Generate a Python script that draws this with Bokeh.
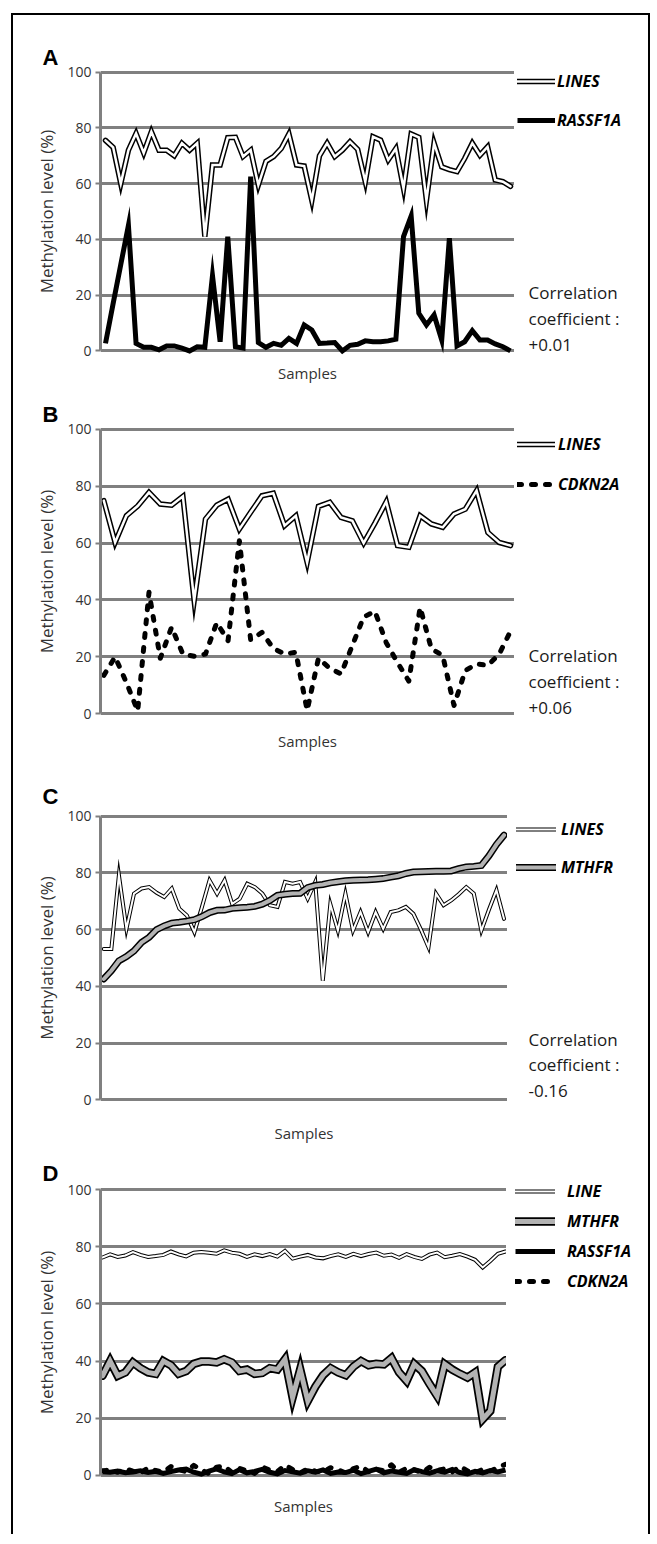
from bokeh.plotting import figure
from bokeh.layouts import column, row
from bokeh.models import FixedTicker, Label, Legend, LegendItem, Range1d
from bokeh.embed import file_html
from bokeh.resources import INLINE

# ---------------- data ----------------
y_ticks = [0, 20, 40, 60, 80, 100]
y_label = "Methylation level (%)"
x_label = "Samples"

# Panel A
samples_a = list(range(1, 55))
lines_a = [75.5, 73, 60, 72, 78, 71, 78.6, 72, 72, 70, 74.5, 72, 74.5, 41, 66.7, 66.7, 76.5, 76.6,
           69.7, 72, 59.5, 68, 69.7, 72.6, 77.8, 66.7, 66.3, 54, 70, 74.5, 69.7, 72, 75, 72.3, 60.7,
           76.8, 75.6, 68.5, 72.6, 58.3, 77.8, 76.6, 54, 74.5, 66, 65, 64.3, 69, 74.5, 70.2, 73.2,
           61.3, 60.7, 59]
rassf1a_a = [2.7, 17, 31, 45, 2.7, 1.3, 1.3, 0.4, 1.8, 1.8, 1, 0, 1.5, 1.3, 27, 3.3, 41, 1.5, 1,
             62.5, 3, 1.3, 2.7, 2, 4.5, 2.7, 9.3, 7.5, 2.7, 2.8, 3, 0, 2, 2.4, 3.6, 3.3, 3.3, 3.6,
             4.2, 41, 48.4, 13.5, 9.3, 12.9, 3.9, 40.4, 1.8, 3.3, 7.3, 3.9, 3.9, 2.5, 1.5, 0]
corr_a = "+0.01"

# Panel B
samples_b = list(range(1, 38))
lines_b = [74.9, 60.2, 69.6, 73, 77.8, 73.7, 73.3, 76.4, 39.8, 68.4, 73.3, 75.4, 64.9, 70.8, 76.6,
           77.5, 66.1, 69.6, 53.2, 72.9, 74.3, 69, 67.8, 60, 67, 74.5, 59.1, 58.5, 69.6, 66.7, 65.5,
           70.2, 71.9, 78.4, 63.7, 60.2, 59.1]
cdkn2a_b = [13.5, 20, 11, 1, 42.7, 19.5, 30.4, 21, 20.2, 21, 32, 25.7, 60.8, 26, 28.6, 23, 21, 21.6,
            1.2, 19.5, 16, 14, 24, 34, 36, 25, 18, 11.5, 37.4, 22.8, 20.5, 2.9, 15.2, 17.5, 17, 21, 29]
corr_b = "+0.06"

# Panel C
samples_c = list(range(1, 55))
lines_c = [53.2, 53.2, 79.2, 60.3, 72.7, 74.5, 75, 73, 71.5, 74.5, 67.4, 65, 59.1, 68, 77.4, 72.7,
           77.4, 69.1, 70.9, 76.2, 75, 72.7, 68.6, 68, 76.8, 76.2, 76.8, 70.9, 76.8, 42, 69, 59.7,
           72.7, 59.7, 66.2, 59.1, 66.2, 60.3, 66.2, 66.8, 68, 65.6, 60, 53.8, 72.7, 68.6, 70.3,
           72.5, 75, 72.7, 59.7, 67, 73.9, 63.8]
mthfr_c = [42.6, 45.5, 49, 50.5, 52.5, 55.5, 57.3, 60, 61.3, 62.3, 62.6, 63, 63.5, 64.6, 66, 66.8,
           66.9, 67.5, 67.7, 67.9, 68.2, 69, 70.3, 72.1, 72.5, 72.7, 72.8, 74.8, 75.6, 75.9, 76.5,
           76.9, 77.2, 77.4, 77.5, 77.6, 77.8, 78, 78.5, 79, 79.8, 80.3, 80.4, 80.5, 80.6, 80.6,
           80.7, 81.5, 82.1, 82.3, 82.6, 86, 90, 93.3]
corr_c = "-0.16"

# Panel D
samples_d = list(range(1, 55))
line_d = [76.3, 77.4, 76.5, 77.0, 78.2, 77.2, 76.5, 76.8, 77.2, 78.4, 77.4, 76.7, 78.0, 78.2, 78.0,
          77.6, 78.8, 78.0, 77.6, 76.5, 77.4, 76.8, 77.5, 76.6, 78.6, 75.9, 76.6, 77.2, 76.3, 76.0,
          76.8, 77.4, 76.5, 77.6, 76.8, 77.5, 78.0, 76.9, 77.3, 76.2, 77.5, 76.5, 75.8, 77.3, 78.0,
          76.4, 76.9, 77.5, 76.6, 75.5, 72.8, 75.1, 77.6, 78.4]
mthfr_d = [34.8, 40, 34.8, 36, 39.5, 37.5, 36, 35.5, 40, 38.5, 35.5, 36.5, 39, 39.8, 39.8, 39.5,
           40.6, 39.5, 36.5, 37, 35.5, 35.8, 37.5, 37, 40.6, 27.2, 37.1, 26, 31, 35, 37.5, 36, 35,
           38, 40, 38.5, 39, 38.8, 41, 36, 33, 38.9, 36.5, 32, 27.8, 38.9, 37, 35.5, 34.2, 36, 19.6,
           22.5, 38, 40.3]
rassf1a_d = [1.2, 1.0, 1.4, 0.8, 1.1, 1.5, 0.9, 1.3, 0.6, 1.2, 1.8, 2.1, 1.0, 0.3, 1.4, 2.2, 1.1,
             0.5, 1.9, 0.8, 1.3, 2.0, 1.0, 0.4, 1.6, 1.2, 0.7, 1.5, 1.0, 1.8, 0.6, 1.1, 0.9, 1.7,
             0.5, 1.3, 2.1, 0.8, 1.4, 1.0, 0.6, 1.9, 1.2, 0.7, 1.5, 1.0, 2.0, 0.9, 0.4, 1.3, 0.8,
             1.6, 1.1, 1.8]
cdkn2a_d = [1.5, 1.8, 1.0, 2.2, 1.4, 0.8, 2.5, 1.6, 1.1, 3.0, 2.0, 1.2, 3.4, 1.8, 0.5, 2.8, 3.2,
            1.0, 2.4, 1.5, 0.6, 2.9, 1.7, 1.2, 3.5, 2.0, 0.8, 2.2, 1.4, 1.0, 2.6, 1.8, 0.7, 2.3,
            3.1, 1.2, 2.0, 1.5, 3.6, 1.0, 2.4, 1.8, 0.9, 2.7, 1.6, 2.2, 1.1, 3.0, 1.5, 0.8, 2.0,
            1.4, 2.6, 3.8]

# ---------------- styling / layout ----------------
GRID = "#808080"
TXT = "#333333"
FONT = "Open Sans"
CONTENT_LEFT = 13
CONTENT_RIGHT = 648
FRAME_LEFT = 100
NAN = float("nan")

STYLE = {
    "LINES": dict(kind="double", outer=5.5, inner=2.5, color="white"),
    "LINES_thin": dict(kind="double", outer=4, inner=2, color="white"),
    "RASSF1A": dict(kind="solid", width=5),
    "CDKN2A": dict(kind="dash", width=5),
    "MTHFR_c": dict(kind="double", outer=7, inner=4, color="#b3b3b3"),
    "MTHFR_d": dict(kind="double", outer=8.5, inner=5, color="#b3b3b3"),
}


def draw(p, x, y, st):
    if st["kind"] == "double":
        r1 = p.line(x, y, line_color="black", line_width=st["outer"], line_join="miter",
                    line_cap="round")
        r2 = p.line(x, y, line_color=st["color"], line_width=st["inner"], line_join="miter",
                    line_cap="round")
        return [r1, r2]
    if st["kind"] == "solid":
        return [p.line(x, y, line_color="black", line_width=st["width"], line_join="miter")]
    return [p.line(x, y, line_color="black", line_width=st["width"], line_dash="4 10",
                   line_cap="round", line_join="round")]


def make_panel(n, first_px, last_px, frame_right, y100, y0, fig_top, fig_bottom,
               samples_gap, letter, letter_standoff, pad=2):
    s = (last_px - first_px) / (n - 1)
    x_start = 1 - (first_px - FRAME_LEFT) / s
    x_end = n + (frame_right - last_px) / s
    sy = (y0 - y100) / 100.0
    f_top = y100 - pad * sy
    f_bot = y0 + pad * sy
    fh = int(round(f_bot - f_top))
    bt = int(round(f_top - fig_top))
    bb = int(round(fig_bottom - f_bot))
    p = figure(x_range=(x_start, x_end), y_range=(-pad, 100 + pad),
               frame_width=int(frame_right - FRAME_LEFT), frame_height=fh,
               min_border_left=FRAME_LEFT - CONTENT_LEFT, min_border_right=0,
               min_border_top=bt, min_border_bottom=bb,
               title=letter, output_backend="svg", toolbar_location=None)
    p.outline_line_color = None
    p.title.align = "left"
    p.title.offset = 42 - FRAME_LEFT
    p.title.standoff = letter_standoff
    p.title.text_font = "Liberation Sans"
    p.title.text_font_size = "22px"
    p.title.text_font_style = "bold"
    p.title.text_color = "black"

    p.xgrid.visible = False
    p.ygrid.ticker = FixedTicker(ticks=y_ticks)
    p.ygrid.grid_line_color = GRID
    p.ygrid.grid_line_width = 3

    yax = p.yaxis[0]
    yax.ticker = FixedTicker(ticks=y_ticks)
    yax.bounds = (0, 100)
    yax.minor_tick_line_color = None
    yax.major_tick_in = 0
    yax.major_tick_out = 5
    yax.major_tick_line_color = GRID
    yax.major_tick_line_width = 2
    yax.axis_line_color = GRID
    yax.axis_line_width = 3
    yax.major_label_text_font = FONT
    yax.major_label_text_font_size = "14px"
    yax.major_label_text_color = TXT
    yax.major_label_standoff = 4
    yax.axis_label = y_label
    yax.axis_label_text_font = FONT
    yax.axis_label_text_font_size = "17px"
    yax.axis_label_text_font_style = "normal"
    yax.axis_label_text_color = TXT
    yax.axis_label_standoff = 6

    xax = p.xaxis[0]
    xax.ticker = FixedTicker(ticks=[])
    xax.axis_line_color = None
    xax.major_tick_line_color = None
    xax.minor_tick_line_color = None
    xax.major_tick_out = 0
    xax.minor_tick_out = 0
    xax.axis_label = x_label
    xax.axis_label_text_font = FONT
    xax.axis_label_text_font_size = "15px"
    xax.axis_label_text_font_style = "normal"
    xax.axis_label_text_color = TXT
    xax.axis_label_standoff = samples_gap

    # side area (legend + correlation text); its frame matches the main frame vertically,
    # and its coordinates are page pixels
    side = figure(x_range=Range1d(frame_right, CONTENT_RIGHT), y_range=Range1d(f_bot, f_top),
                  frame_width=int(CONTENT_RIGHT - frame_right), frame_height=fh,
                  min_border_left=0, min_border_right=0, min_border_top=bt, min_border_bottom=bb,
                  x_axis_type=None, y_axis_type=None,
                  output_backend="svg", toolbar_location=None)
    side.outline_line_color = None
    return p, side, f_bot


def add_legend(side, items, f_bot, glyph_left, frame_right, row1, pitch, glyph_w, standoff):
    row_h = 20
    n = len(items)
    height = n * row_h + (n - 1) * (pitch - row_h)
    top = row1 - row_h / 2
    legend_items = []
    for lab, st in items:
        rs = draw(side, [NAN, NAN], [NAN, NAN], st)
        legend_items.append(LegendItem(label=lab, renderers=rs))
    leg = Legend(items=legend_items,
                 location=(glyph_left - frame_right, f_bot - (top + height)),
                 orientation="vertical", glyph_width=glyph_w, glyph_height=row_h,
                 label_height=row_h, spacing=pitch - row_h, padding=0, margin=0,
                 label_standoff=standoff, border_line_color=None, background_fill_alpha=0,
                 label_text_font=FONT, label_text_font_style="bold italic",
                 label_text_font_size="16px", label_text_color="black")
    side.add_layout(leg)


def add_corr(side, x, ys, coef):
    for yy, t in zip(ys, ["Correlation", "coefficient :", coef]):
        side.add_layout(Label(x=x, y=yy, text=t, text_font=FONT, text_font_size="17px",
                              text_color="#1a1a1a", text_align="left", text_baseline="middle"))


# Panel A
pA, sA, fbA = make_panel(len(samples_a), 105, 510, 514, 72, 351, 15, 395, 6, "A", -6)
draw(pA, samples_a, lines_a, STYLE["LINES"])
draw(pA, samples_a, rassf1a_a, STYLE["RASSF1A"])
add_legend(sA, [("LINES", STYLE["LINES"]), ("RASSF1A", STYLE["RASSF1A"])], fbA, 517, 514, 85, 37, 38, 2)
add_corr(sA, 528, (293, 319, 345), corr_a)

# Panel B
pB, sB, fbB = make_panel(len(samples_b), 103.3, 510, 514, 430, 715, 395, 775, 11, "B", -6)
draw(pB, samples_b, lines_b, STYLE["LINES"])
draw(pB, samples_b, cdkn2a_b, STYLE["CDKN2A"])
add_legend(sB, [("LINES", STYLE["LINES"]), ("CDKN2A", STYLE["CDKN2A"])], fbB, 517, 514, 449, 38, 38, 3)
add_corr(sB, 528, (657, 683, 709), corr_b)

# Panel C
pC, sC, fbC = make_panel(len(samples_c), 103.3, 503.5, 507, 818, 1102, 775, 1160, 17, "C", 4)
draw(pC, samples_c, lines_c, STYLE["LINES_thin"])
draw(pC, samples_c, mthfr_c, STYLE["MTHFR_c"])
add_legend(sC, [("LINES", STYLE["LINES_thin"]), ("MTHFR", STYLE["MTHFR_c"])], fbC, 516, 507, 835, 36, 40, 5)
add_corr(sC, 528, (1042, 1067, 1093), corr_c)

# Panel D
pD, sD, fbD = make_panel(len(samples_d), 102, 505, 506, 1192, 1477, 1160, 1536, 9, "D", -15, pad=4)
draw(pD, samples_d, line_d, STYLE["LINES_thin"])
draw(pD, samples_d, mthfr_d, STYLE["MTHFR_d"])
draw(pD, samples_d, rassf1a_d, STYLE["RASSF1A"])
draw(pD, samples_d, cdkn2a_d, STYLE["CDKN2A"])
add_legend(sD, [("LINE", STYLE["LINES_thin"]), ("MTHFR", STYLE["MTHFR_d"]),
                ("RASSF1A", STYLE["RASSF1A"]), ("CDKN2A", STYLE["CDKN2A"])], fbD, 515, 506, 1200, 28, 40, 12)

layout = column(row(pA, sA), row(pB, sB), row(pC, sC), row(pD, sD), margin=(13, 0, 0, 11),
                styles={"border-left": "2px solid black", "border-top": "2px solid black",
                        "border-right": "2px solid black"})

open("out.html", "w").write(file_html(layout, INLINE))
